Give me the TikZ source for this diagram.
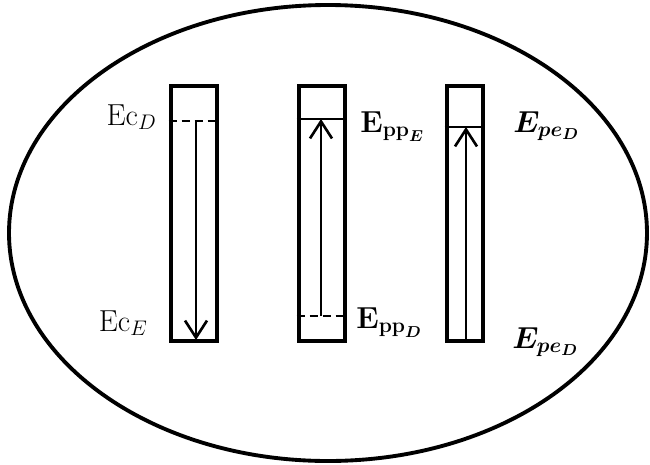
\documentclass[tikz,border=0pt]{standalone}
\usepackage{amsmath,amssymb,bm}
\usetikzlibrary{arrows.meta}

\begin{document}
\begin{tikzpicture}[
  x=0.02cm,y=-0.02cm,
  font=\fontsize{17.5}{20}\selectfont,
  rim/.style={draw=black,line width=2.2pt},
  bar/.style={draw=black,line width=2.8pt,minimum height=5.1cm,inner sep=0pt},
  level/.style={line width=1.6pt},
  dashlevel/.style={level,dash pattern=on 4.6pt off 2.8pt},
  arr/.style={-{Straight Barb[length=3.4mm,width=4.4mm]},line width=1.5pt},
  lbl/.style={inner sep=0pt}
]
\useasboundingbox (0,0) rectangle (650,464);
\draw[rim] (328,233) ellipse [x radius=319, y radius=228];

% the three bars
\node[bar,minimum width=0.92cm] (kin) at (194,213.5) {};
\node[bar,minimum width=0.92cm] (pp) at (322,213.5) {};
\node[bar,minimum width=0.72cm] (pe) at (465,213.5) {};

% levels
\coordinate (kinD) at (196,121);
\coordinate (kinE) at (196,340);
\coordinate (ppE) at (321,119);
\coordinate (ppD) at (321,316);
\coordinate (peTop) at (466,127);
\coordinate (peBot) at (466,341);

\draw[dashlevel] (kin.west |- kinD) -- (kin.east |- kinD);
\draw[level] (pp.west |- ppE) -- (pp.east |- ppE);
\draw[dashlevel] (pp.west |- ppD) -- (pp.east |- ppD);
\draw[level] (pe.west |- peTop) -- (pe.east |- peTop);

% transitions
\draw[arr] (kinD) -- (kinE);
\draw[arr] (ppD) -- (ppE);
\draw[arr] (peBot) -- (peTop);

% labels
\node[lbl,anchor=base east] (lEcD) at (157,125) {$\mathrm{Ec}_D$};
\node[lbl,anchor=base east] (lEcE) at (148,331) {$\mathrm{Ec}_E$};
\node[lbl,anchor=base west] (lppE) at (360,132) {$\mathbf{E}_{\mathbf{pp}_{\bm{E}}}$};
\node[lbl,anchor=base west] (lppD) at (356,328) {$\mathbf{E}_{\mathbf{pp}_{\bm{D}}}$};
\node[lbl,anchor=base west] (lpeT) at (513,132) {$\bm{E_{pe_D}}$};
\node[lbl,anchor=base west] (lpeB) at (512,348) {$\bm{E_{pe_D}}$};
\end{tikzpicture}
\end{document}
